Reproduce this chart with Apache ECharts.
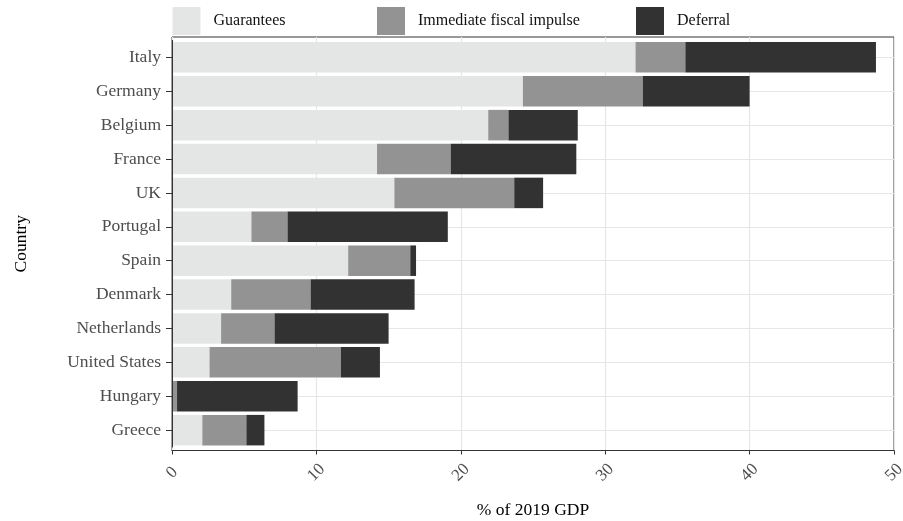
<!DOCTYPE html>
<html>
<head>
<meta charset="utf-8">
<script src="https://cdn.jsdelivr.net/npm/echarts@6/dist/echarts.min.js"></script>
<style>
html,body{margin:0;padding:0;background:#fff;}
#chart{width:903px;height:521px;}
</style>
</head>
<body>
<div id="chart"></div>
<script>
// ---- data ----
var countries = ['Italy','Germany','Belgium','France','UK','Portugal','Spain','Denmark','Netherlands','United States','Hungary','Greece'];
var guarantees = [32.1, 24.3, 21.9, 14.2, 15.4, 5.5, 12.2, 4.1, 3.4, 2.6, 0.0, 2.1];
var fiscalImpulse = [3.45, 8.3, 1.4, 5.1, 8.3, 2.5, 4.3, 5.5, 3.7, 9.1, 0.35, 3.05];
var deferral = [13.2, 7.4, 4.8, 8.7, 2.0, 11.1, 0.4, 7.2, 7.9, 2.7, 8.35, 1.25];
var seriesNames = ['Guarantees', 'Immediate fiscal impulse', 'Deferral'];
var xTicks = [0, 10, 20, 30, 40, 50];

var FONT = 'Liberation Serif';
var colors = ['#e4e6e5', '#939393', '#323232'];

var chart = echarts.init(document.getElementById('chart'), null, {renderer: 'canvas'});

function legendAt(i, left) {
  return {
    data: [seriesNames[i]],
    left: left, top: 7, padding: 0,
    itemWidth: 28, itemHeight: 28,
    icon: 'rect',
    selectedMode: false,
    textStyle: {fontFamily: FONT, fontSize: 16, color: '#111', padding: [2, 0, 0, 8]}
  };
}

var option = {
  backgroundColor: '#fff',
  animation: false,
  color: colors,
  legend: [legendAt(0, 172.5), legendAt(1, 377), legendAt(2, 636)],
  grid: [
    {left: 172, right: 9, top: 40.4, bottom: 73.9, containLabel: false, outerBoundsMode: 'none'},
    {left: 172, right: 9, top: 37, bottom: 70.5, containLabel: false, outerBoundsMode: 'none', show: true, borderColor: '#333', borderWidth: 1, backgroundColor: 'transparent'}
  ],
  xAxis: [
    {type: 'value', gridIndex: 0, min: 0, max: 50, show: false},
    {
      type: 'value', gridIndex: 1, min: 0, max: 50, interval: 10,
      name: '% of 2019 GDP', nameLocation: 'middle', nameGap: 51,
      nameTextStyle: {fontFamily: FONT, fontSize: 17.5, color: '#000'},
      axisLine: {show: true, lineStyle: {color: '#333', width: 1}},
      axisTick: {show: true, length: 4, lineStyle: {color: '#333'}},
      axisLabel: {
        rotate: 45, align: 'center', verticalAlign: 'middle', margin: 22,
        fontFamily: FONT, fontSize: 17, color: '#4d4d4d',
        formatter: function (v) { return xTicks.indexOf(v) >= 0 ? String(v) : ''; }
      },
      splitLine: {show: true, lineStyle: {color: '#e6e6e6', width: 1.2}}
    }
  ],
  yAxis: [
    {
      type: 'category', gridIndex: 0, data: countries, inverse: true, z: 3,
      name: 'Country', nameLocation: 'middle', nameGap: 142, nameRotate: 90,
      nameTextStyle: {fontFamily: FONT, fontSize: 17.5, color: '#000'},
      axisLine: {show: true, lineStyle: {color: '#333', width: 1}},
      axisTick: {show: true, alignWithLabel: true, length: 6, lineStyle: {color: '#333'}},
      axisLabel: {fontFamily: FONT, fontSize: 17.5, color: '#4d4d4d', margin: 11},
      splitLine: {show: false}
    },
    {type: 'value', gridIndex: 1, min: 0, max: 1, show: false}
  ],
  series: [
    {
      type: 'line', xAxisIndex: 0, yAxisIndex: 0, data: [], z: 1, silent: true,
      markLine: {
        silent: true, z: 1, symbol: ['none', 'none'], label: {show: false},
        lineStyle: {color: '#e6e6e6', type: 'solid', width: 1.2},
        data: countries.map(function (c) { return {yAxis: c}; })
      }
    },
    {name: seriesNames[0], type: 'bar', stack: 'total', data: guarantees, barCategoryGap: '10%', xAxisIndex: 0, yAxisIndex: 0, z: 2, itemStyle: {color: colors[0]}},
    {name: seriesNames[1], type: 'bar', stack: 'total', data: fiscalImpulse, barCategoryGap: '10%', xAxisIndex: 0, yAxisIndex: 0, z: 2, itemStyle: {color: colors[1]}},
    {name: seriesNames[2], type: 'bar', stack: 'total', data: deferral, barCategoryGap: '10%', xAxisIndex: 0, yAxisIndex: 0, z: 2, itemStyle: {color: colors[2]}}
  ]
};
chart.setOption(option);
</script>
</body>
</html>
